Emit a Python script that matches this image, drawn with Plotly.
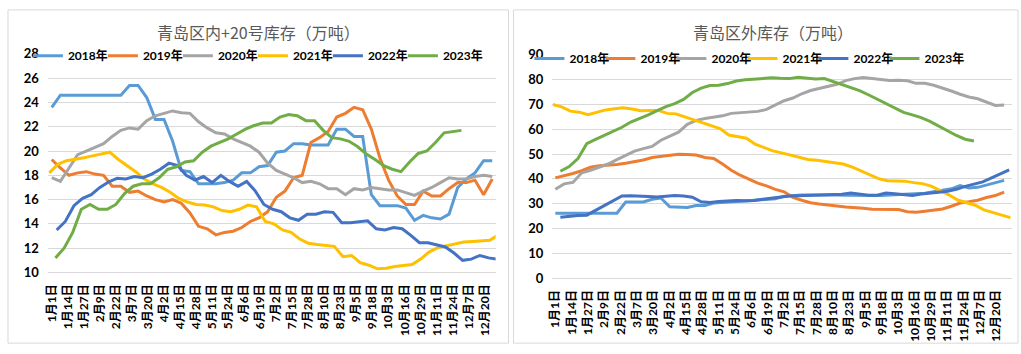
import plotly.graph_objects as go

W, H = 1021, 354

tick_labels = ["1月1日", "1月14日", "1月27日", "2月9日", "2月22日", "3月7日", "3月20日",
               "4月2日", "4月15日", "4月28日", "5月11日", "5月24日", "6月6日", "6月19日",
               "7月2日", "7月15日", "7月28日", "8月10日", "8月23日", "9月5日", "9月18日",
               "10月3日", "10月16日", "10月29日", "11月11日", "11月24日", "12月7日", "12月20日"]
tick_pos = [13 * i for i in range(len(tick_labels))]

years = ["2018年", "2019年", "2020年", "2021年", "2022年", "2023年"]
colors = ["#5B9BD5", "#ED7D31", "#A5A5A5", "#FFC000", "#4472C4", "#70AD47"]

# ---- 青岛区内+20号库存（万吨） weekly values ----
in_start = [0, 0, 0, -2, 4, 3]   # day index of first weekly observation
in_2018 = [23.6, 24.6, 24.6, 24.6, 24.6, 24.6, 24.6, 24.6, 24.6, 25.4, 25.4, 24.4, 22.6, 22.6, 20.8, 18.4,
           18.3, 17.3, 17.3, 17.3, 17.4, 17.6, 18.2, 18.2, 18.7, 18.8, 19.9, 20.0, 20.6, 20.6, 20.5, 20.5,
           20.5, 21.8, 21.8, 21.2, 21.2, 16.4, 15.5, 15.5, 15.5, 15.3, 14.3, 14.7, 14.5, 14.4, 14.8, 17.0,
           17.7, 18.2, 19.2, 19.2]
in_2019 = [19.3, 18.6, 18.0, 18.2, 18.3, 18.1, 18.0, 17.1, 17.1, 16.6, 16.7, 16.3, 16.0, 15.8, 16.0, 15.7,
           14.9, 13.8, 13.6, 13.1, 13.3, 13.4, 13.7, 14.2, 14.5, 15.0, 16.2, 16.7, 17.8, 18.0, 20.7, 21.1,
           21.6, 22.8, 23.1, 23.6, 23.4, 21.8, 19.4, 17.6, 16.3, 15.6, 15.6, 16.7, 16.3, 16.3, 16.9, 17.4,
           17.4, 17.6, 16.4, 17.7]
in_2020 = [17.8, 17.5, 18.6, 19.7, 20.0, 20.3, 20.6, 21.2, 21.7, 21.9, 21.8, 22.5, 22.9, 23.1, 23.3, 23.15,
           23.1, 22.4, 21.9, 21.5, 21.4, 21.0, 20.7, 20.4, 19.9, 19.0, 18.4, 18.1, 17.8, 17.4, 17.5, 17.3,
           16.9, 16.9, 16.4, 16.9, 16.8, 17.0, 16.9, 16.8, 16.8, 16.6, 16.35, 16.7, 17.0, 17.4, 17.8, 17.7,
           17.7, 17.9, 18.0, 17.9]
in_2021 = [18.2, 18.9, 19.2, 19.3, 19.45, 19.6, 19.75, 19.9, 19.3, 18.8, 18.3, 17.7, 17.3, 17.0, 16.6, 16.1,
           15.8, 15.6, 15.55, 15.4, 15.1, 15.0, 15.2, 15.55, 15.4, 14.2, 14.0, 13.5, 13.3, 12.75, 12.4, 12.3,
           12.25, 12.15, 11.3, 11.4, 10.8, 10.6, 10.3, 10.35, 10.5, 10.6, 10.65, 11.1, 11.7, 12.05, 12.2,
           12.4, 12.5, 12.55, 12.6, 12.65, 13.1]
in_2022 = [13.5, 14.2, 15.5, 16.1, 16.4, 17.0, 17.45, 17.75, 17.7, 17.9, 17.8, 18.1, 18.5, 19.0, 18.8, 18.0,
           17.6, 17.9, 17.4, 18.0, 17.5, 17.1, 17.5, 16.7, 15.6, 15.2, 15.0, 14.5, 14.3, 14.8, 14.8, 15.0,
           14.95, 14.1, 14.1, 14.2, 14.25, 13.6, 13.5, 13.7, 13.6, 13.05, 12.45, 12.45, 12.3, 12.1, 11.6,
           11.0, 11.1, 11.4, 11.2, 11.1]
in_2023 = [11.2, 12.0, 13.3, 15.2, 15.6, 15.2, 15.2, 15.6, 16.5, 17.1, 17.3, 17.3, 17.8, 18.5, 18.7, 19.1,
           19.2, 19.9, 20.4, 20.7, 21.0, 21.4, 21.8, 22.1, 22.3, 22.3, 22.8, 23.0, 22.9, 22.5, 22.5, 21.7,
           21.1, 21.0, 20.8, 20.35, 19.75, 19.3, 18.8, 18.5, 18.3, 19.1, 19.8, 20.0, 20.7, 21.5, 21.6, 21.7]

# ---- 青岛区外库存（万吨） weekly values ----
out_start = [0, 0, 0, -2, 4, 4]
out_2018 = [26.2, 26.2, 26.2, 26.2, 26.2, 26.2, 26.2, 26.2, 30.7, 30.7, 30.7, 31.8, 32.3, 28.8, 28.5, 28.5,
            29.3, 29.3, 30.3, 30.6, 31.0, 31.0, 31.2, 31.4, 31.6, 32.0, 33.0, 33.3, 33.5, 33.5, 33.6, 33.5,
            33.5, 33.4, 33.3, 33.3, 33.3, 33.3, 33.5, 33.6, 33.8, 34.0, 34.2, 34.8, 35.4, 36.0, 37.3, 36.3,
            36.6, 37.6, 38.6, 39.4]
out_2019 = [40.4, 41.2, 42.2, 43.3, 44.7, 45.3, 45.4, 45.8, 46.3, 46.8, 47.6, 48.6, 49.1, 49.5, 49.9, 49.8,
            49.6, 48.6, 48.2, 46.0, 43.5, 41.5, 40.0, 38.3, 37.2, 35.8, 34.8, 32.6, 31.4, 30.4, 29.9, 29.6,
            29.1, 28.7, 28.5, 28.2, 27.8, 27.7, 27.8, 27.7, 26.8, 26.6, 27.0, 27.5, 27.9, 29.0, 30.3, 30.8,
            31.4, 32.5, 33.3, 34.7]
out_2020 = [35.8, 38.0, 38.6, 42.5, 43.5, 44.6, 46.0, 47.8, 49.4, 51.2, 52.2, 53.1, 55.6, 57.1, 58.8, 62.0,
            63.6, 64.3, 64.9, 65.4, 66.4, 66.6, 66.9, 67.2, 68.0, 69.6, 71.5, 72.6, 74.3, 75.6, 76.4, 77.0,
            78.1, 79.6, 80.4, 80.8, 80.3, 79.8, 79.6, 79.7, 79.5, 78.5, 78.5, 77.7, 76.7, 75.4, 74.1, 73.0,
            72.3, 71.0, 69.6, 69.8]
out_2021 = [70.0, 69.0, 67.3, 66.9, 65.9, 67.0, 67.8, 68.3, 68.7, 68.2, 67.5, 67.6, 67.6, 66.4, 66.2, 65.0,
            63.8, 62.6, 61.3, 60.3, 57.7, 57.2, 56.4, 54.0, 52.6, 51.3, 50.5, 49.6, 48.9, 47.8, 47.5, 47.1,
            46.6, 46.0, 44.8, 43.2, 41.5, 40.1, 39.3, 39.2, 39.1, 38.5, 38.1, 37.1, 35.5, 33.6, 31.5, 30.4,
            29.4, 27.5, 26.4, 25.4, 24.4]
out_2022 = [24.6, 25.0, 25.3, 25.4, 27.3, 29.0, 30.9, 33.1, 33.2, 33.2, 32.9, 32.7, 32.9, 33.3, 33.1, 32.6,
            30.8, 30.5, 30.9, 31.2, 31.3, 31.2, 31.3, 31.8, 32.3, 32.6, 33.1, 33.2, 33.3, 33.4, 33.5, 33.5,
            33.8, 34.3, 33.9, 33.4, 33.4, 34.3, 34.0, 33.6, 33.3, 33.9, 34.4, 34.6, 35.0, 35.8, 37.0, 37.9,
            38.8, 40.4, 42.0, 43.6]
out_2023 = [43.1, 45.0, 48.2, 54.2, 55.9, 57.5, 59.0, 60.8, 62.9, 64.3, 65.8, 67.5, 69.1, 70.3, 72.0, 74.8,
            76.6, 77.6, 77.7, 78.4, 79.4, 79.9, 80.2, 80.5, 80.7, 80.5, 80.4, 80.9, 80.5, 80.2, 80.4, 79.2,
            77.8, 76.8, 75.6, 73.9, 72.1, 70.2, 68.4, 66.8, 65.8, 64.7, 63.2, 61.3, 59.4, 57.5, 56.0, 55.3]

in_series = [in_2018, in_2019, in_2020, in_2021, in_2022, in_2023]
out_series = [out_2018, out_2019, out_2020, out_2021, out_2022, out_2023]

FONT = "Lato, 'Noto Sans CJK SC', sans-serif"
CJK = "'Noto Sans CJK SC', sans-serif"

fig = go.Figure()

n = len(years)
for k, (name, col, st, vals) in enumerate(zip(years, colors, in_start, in_series)):
    fig.add_trace(go.Scatter(
        x=[st + 7 * i for i in range(len(vals))], y=vals, name=name, mode="lines",
        line=dict(color=col, width=3), xaxis="x", yaxis="y", legend="legend",
        legendwidth=(48 if k == n - 1 else None)))

for k, (name, col, st, vals) in enumerate(zip(years, colors, out_start, out_series)):
    fig.add_trace(go.Scatter(
        x=[st + 7 * i for i in range(len(vals))], y=vals, name=name, mode="lines",
        line=dict(color=col, width=3), xaxis="x2", yaxis="y2", legend="legend2",
        legendwidth=(48 if k == n - 1 else None)))

def px_x(p):
    return p / W

def px_y(p):
    return 1 - p / H

grid = "#D9D9D9"
tickfont = dict(family=FONT, size=12, color="#000000", weight="bold")

xcommon = dict(tickmode="array", tickvals=tick_pos, ticktext=tick_labels, tickangle=-90,
               showgrid=False, zeroline=False, showline=True, linecolor=grid, linewidth=1,
               ticks="", tickfont=tickfont, ticklabelstandoff=6, fixedrange=True)
ycommon = dict(showgrid=True, gridcolor=grid, gridwidth=1, zeroline=False, showline=False,
               ticks="", tickfont=dict(family=FONT, size=13, color="#000000", weight="bold"),
               ticklabelstandoff=8, fixedrange=True)

legfont = dict(family=FONT, size=12, color="#000000", weight="bold")

fig.update_layout(
    width=W, height=H, margin=dict(l=0, r=0, t=0, b=0),
    paper_bgcolor="white", plot_bgcolor="white", showlegend=True,
    xaxis=dict(domain=[px_x(43), px_x(493)], range=[-3.2, 359.7], anchor="y", **xcommon),
    yaxis=dict(domain=[px_y(277), px_y(48)], range=[10, 28], dtick=2, anchor="x", **ycommon),
    xaxis2=dict(domain=[px_x(550), px_x(1012)], range=[-2.4, 363.3], anchor="y2", **xcommon),
    yaxis2=dict(domain=[px_y(283), px_y(49)], range=[0, 90], dtick=10, anchor="x2", **ycommon),
    legend=dict(orientation="h", x=px_x(23), xanchor="left", y=px_y(50), yanchor="middle",
                entrywidth=30, entrywidthmode="pixels", itemwidth=30, bgcolor="rgba(0,0,0,0)",
                font=legfont, traceorder="normal"),
    legend2=dict(orientation="h", x=px_x(527), xanchor="left", y=px_y(53), yanchor="middle",
                 entrywidth=26, entrywidthmode="pixels", itemwidth=30, bgcolor="rgba(0,0,0,0)",
                 font=legfont, traceorder="normal"),
    annotations=[
        dict(text="青岛区内+20号库存（万吨）", x=px_x(255), y=px_y(25), xref="paper", yref="paper",
             xanchor="center", yanchor="middle", showarrow=False,
             font=dict(family=CJK, size=16, color="#595959")),
        dict(text="青岛区外库存（万吨）", x=px_x(772), y=px_y(25), xref="paper", yref="paper",
             xanchor="center", yanchor="middle", showarrow=False,
             font=dict(family=CJK, size=16, color="#595959")),
    ],
    shapes=[
        dict(type="rect", xref="paper", yref="paper", x0=px_x(3), x1=px_x(506), y0=px_y(351), y1=px_y(2),
             line=dict(color=grid, width=1), fillcolor="rgba(0,0,0,0)", layer="below"),
        dict(type="rect", xref="paper", yref="paper", x0=px_x(511), x1=px_x(1018), y0=px_y(351), y1=px_y(2),
             line=dict(color=grid, width=1), fillcolor="rgba(0,0,0,0)", layer="below"),
    ],
)

fig.write_html("out.html")
